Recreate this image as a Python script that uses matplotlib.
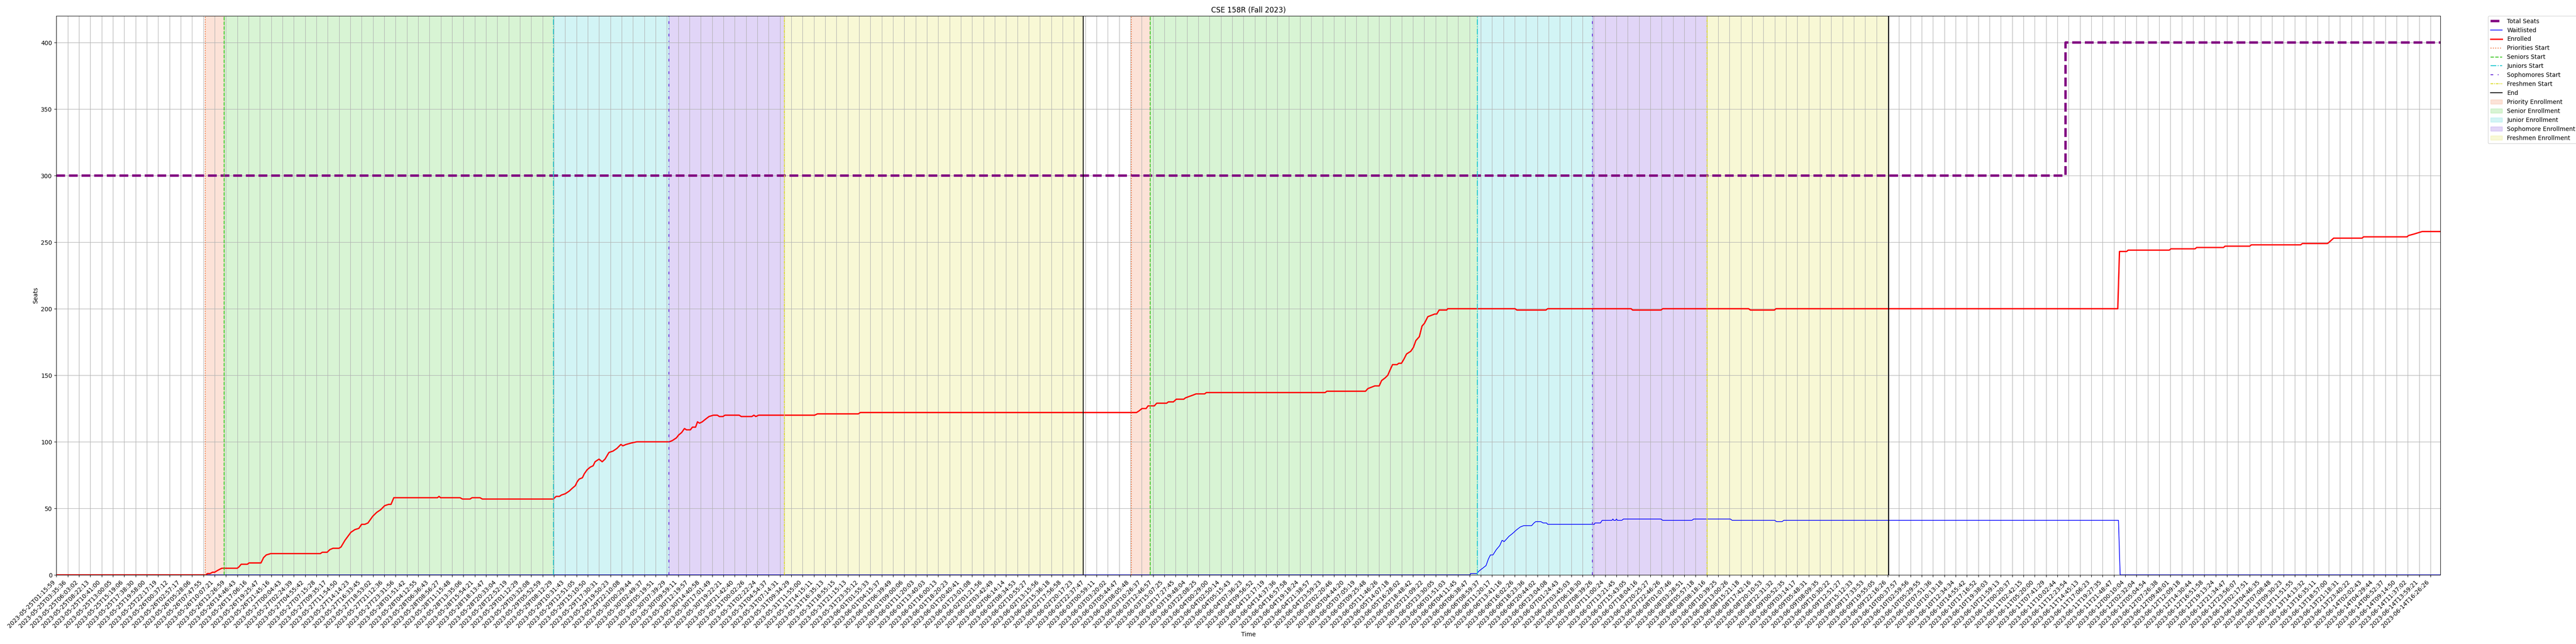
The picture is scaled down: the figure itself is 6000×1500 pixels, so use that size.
import matplotlib
matplotlib.use("Agg")
import matplotlib.pyplot as plt

# x tick labels (one tick every few samples, categorical axis)
tick_days = ['2023-05-25', '2023-05-26', '2023-05-27', '2023-05-28', '2023-05-29', '2023-05-30',
             '2023-05-31', '2023-06-01', '2023-06-02', '2023-06-03', '2023-06-04', '2023-06-05',
             '2023-06-06', '2023-06-07', '2023-06-08', '2023-06-09', '2023-06-10', '2023-06-11',
             '2023-06-12', '2023-06-13', '2023-06-14']
tick_times = [
    ['01:15:59', '03:35:36', '06:03:02', '08:22:13', '10:41:00', '13:00:05', '15:19:06', '17:38:30', '19:58:00', '22:17:19'],
    ['00:37:12', '02:57:17', '05:28:06', '07:47:55', '10:07:21', '12:26:59', '14:46:43', '17:06:16', '19:25:47', '21:45:16'],
    ['00:04:43', '02:24:39', '04:55:42', '07:15:28', '09:35:17', '11:54:50', '14:14:23', '16:33:45', '18:53:02', '21:12:36', '23:31:56'],
    ['01:51:42', '04:12:55', '06:36:43', '08:56:27', '11:15:48', '13:35:06', '15:54:21', '18:13:47', '20:33:04', '22:52:19'],
    ['01:12:29', '03:32:08', '05:52:59', '08:12:29', '10:31:43', '12:51:05', '15:10:50', '17:30:31', '19:50:23', '22:10:08'],
    ['00:29:44', '02:49:37', '05:19:51', '07:39:29', '09:59:11', '12:19:57', '14:40:58', '17:01:49', '19:22:21', '21:42:40'],
    ['00:02:26', '02:22:24', '04:54:37', '07:14:31', '09:34:29', '11:55:00', '14:15:11', '16:35:13', '18:55:15', '21:15:13', '23:35:12'],
    ['01:55:33', '04:15:37', '06:39:49', '09:00:06', '11:20:03', '13:40:03', '16:00:13', '18:20:23', '20:40:41', '23:01:08'],
    ['01:21:56', '03:42:49', '06:14:14', '08:34:53', '10:55:27', '13:15:56', '15:36:18', '17:56:58', '20:17:23', '22:37:47'],
    ['00:59:11', '03:20:02', '05:44:47', '08:05:48', '10:26:37', '12:46:57', '15:07:25', '17:27:45', '19:48:04', '22:08:25'],
    ['00:29:00', '02:50:14', '05:15:43', '07:36:23', '09:56:52', '12:17:19', '14:37:36', '16:57:58', '19:18:24', '21:38:57', '23:59:23'],
    ['02:20:46', '04:44:20', '07:05:19', '09:25:48', '11:46:26', '14:07:18', '16:28:02', '18:48:42', '21:09:22', '23:30:05'],
    ['01:51:03', '04:11:45', '06:38:47', '08:59:37', '11:20:17', '13:41:16', '16:02:26', '18:23:36', '20:44:02', '23:04:08'],
    ['01:24:43', '03:45:03', '06:18:30', '08:39:26', '11:00:24', '13:21:45', '15:43:05', '18:04:16', '20:25:27', '22:46:26'],
    ['01:07:46', '03:28:51', '05:57:18', '08:18:16', '10:39:25', '13:00:26', '15:21:18', '17:42:16', '20:10:53', '22:31:32'],
    ['00:52:35', '03:14:17', '05:48:31', '08:09:35', '10:30:22', '12:51:27', '15:12:33', '17:33:53', '19:55:05', '22:16:26'],
    ['00:37:57', '02:59:56', '05:29:55', '07:51:36', '10:13:18', '12:34:34', '14:55:42', '17:16:52', '19:38:03', '21:59:13'],
    ['00:20:37', '02:42:15', '05:20:00', '07:41:29', '10:02:44', '12:23:54', '14:45:13', '17:06:23', '19:27:35', '21:48:47'],
    ['00:10:04', '02:32:04', '05:04:54', '07:26:38', '09:48:01', '12:09:18', '14:30:44', '16:51:58', '19:13:24', '21:34:47', '23:56:07'],
    ['02:17:51', '04:46:35', '07:08:48', '09:30:23', '11:51:55', '14:13:32', '16:35:11', '18:57:00', '21:18:31', '23:40:22'],
    ['02:02:43', '04:29:44', '06:52:37', '09:14:50', '11:37:02', '13:59:21', '16:26:26'],
]
tick_labels = [d + 'T' + t for d, times in zip(tick_days, tick_times) for t in times]

# positions are in tick units (sample index / tick step)
x_end = 210.87

seats_x = [0, 177.7, x_end]
seats_y = [300, 400, 400]

enrolled_x = [0, 13.2, 13.37, 13.6, 13.81, 14.0, 14.19, 14.4, 14.64, 16.0, 16.15, 16.35, 16.9, 17.04, 18.1,
              18.33, 18.57, 18.96,
              23.35, 23.52, 23.95, 24.19, 24.47, 25.0, 25.18, 25.53, 26.05, 26.4, 26.76, 27.0, 27.28, 27.56,
              27.98, 28.34, 28.69, 29.04, 29.39, 29.6, 29.85, 33.71, 33.85, 33.98, 35.71, 35.92, 36.59, 36.77,
              37.47, 37.68, 43.96,
              44.21, 44.5, 44.67, 45.02, 45.37, 45.62, 45.9, 46.07, 46.25, 46.53, 46.7, 46.95, 47.23, 47.48,
              47.65, 48.0, 48.28, 48.53, 48.88, 49.23, 49.58, 49.93, 50.11, 50.39, 50.81, 51.34, 54.22,
              54.5, 54.85, 55.03, 55.31, 55.56, 55.73, 56.08, 56.26, 56.54, 56.71, 56.89, 57.13, 57.42, 57.73,
              58.12, 58.47, 58.64, 58.96, 59.14, 60.4, 60.58, 61.52, 61.7, 61.87, 62.12, 67.07, 67.32, 70.94,
              71.11,
              95.54, 95.73, 96.03, 96.39, 96.57, 97.12, 97.33, 98.21, 98.36, 98.81, 99.06, 99.72, 99.87, 100.18,
              100.51, 100.81, 101.57, 101.72, 112.23, 112.38, 115.8, 116.01, 116.32, 116.62, 117.01, 117.22,
              117.53, 117.77, 117.92, 118.19, 118.59, 118.74, 118.98, 119.19, 119.43, 119.8, 120.04, 120.25,
              120.56, 120.8, 121.01, 121.31, 121.61, 121.92, 122.1, 122.31, 122.98, 123.07,
              129.03, 129.18, 131.76, 131.91, 139.3, 139.42, 141.94, 142.09, 149.69, 149.84, 151.97, 152.11,
              182.34, 182.49, 183.12, 183.26, 186.89, 187.04, 189.17, 189.32, 191.69, 191.83, 194.01, 194.16,
              198.52, 198.67, 200.89, 201.04, 201.43, 203.94, 204.09, 207.92, 208.06, 208.5, 208.89, 209.27,
              x_end]
enrolled_y = [0, 0, 1, 1, 2, 2, 3, 4, 5, 5, 6, 8, 8, 9, 9,
              13, 15, 16,
              16, 17, 17, 19, 20, 20, 21, 26, 32, 34, 35, 38, 38, 39,
              44, 47, 49, 52, 53, 53, 58, 58, 59, 58, 58, 57, 57, 58,
              58, 57, 57,
              59, 59, 60, 61, 63, 65, 67, 70, 72, 73, 76, 79, 81, 82,
              85, 87, 85, 87, 92, 93, 95, 98, 97, 98, 99, 100, 100,
              101, 103, 105, 107, 110, 109, 109, 111, 111, 115, 114, 115, 117, 119,
              120, 120, 119, 119, 120, 120, 119, 119, 120, 119, 120, 120, 121, 121,
              122,
              122, 123, 125, 125, 127, 127, 129, 129, 130, 130, 132, 132, 133, 134,
              135, 136, 136, 137, 137, 138, 138, 140, 141, 142, 142, 146,
              148, 150, 153, 158, 158, 159, 159, 162, 166, 168, 171, 176,
              179, 187, 189, 194, 195, 196, 196, 199, 199, 200,
              200, 199, 199, 200, 200, 199, 199, 200, 200, 199, 199, 200,
              200, 243, 243, 244, 244, 245, 245, 246, 246, 247, 247, 248,
              248, 249, 249, 250, 253, 253, 254, 254, 255, 256, 257, 258,
              258]

waitlist_x = [0, 125.04, 125.1, 125.64, 125.85, 126.16, 126.46, 126.67, 126.85, 127.07, 127.37, 127.67,
              127.88, 128.06, 128.28, 128.49, 128.79, 129.18, 129.49, 129.79, 130.49, 130.7, 130.85, 131.31,
              131.52, 131.82, 131.91, 136.04, 136.1, 136.58, 136.73, 137.6, 137.68, 137.76, 137.92, 138.0,
              138.08, 138.47, 138.62, 141.93, 142.09, 144.67, 144.83, 148.07, 148.23, 152.0, 152.16, 152.64,
              152.8, 182.4, 182.55, x_end]
waitlist_y = [0, 0, 1, 1, 3, 5, 7, 12, 15, 15, 19, 22,
              26, 25, 27, 29, 31, 34, 36, 37, 37, 39, 40, 40,
              39, 39, 38, 38, 39, 39, 41, 41, 42, 41, 41, 42,
              41, 41, 42, 42, 41, 41, 42, 42, 41, 41, 40, 40,
              41, 41, 0, 0]

# enrollment phases (two passes)
priority_start = [13.16, 95.07]
seniors_start = [14.84, 96.76]
juniors_start = [43.96, 125.70]
sophomores_start = [54.18, 135.88]
freshmen_start = [64.40, 146.02]
end_times = [90.81, 162.07]

c_prio = '#f0703a'
c_sen = '#40c828'
c_jun = '#20c8d0'
c_soph = '#6a30d8'
c_fresh = '#dcdc30'

fig = plt.figure(figsize=(60, 15), dpi=100)
ax = fig.add_axes([0.02188, 0.1073, 0.92545, 0.868])

ax.plot(seats_x, seats_y, color='purple', linestyle='--', linewidth=4, drawstyle='steps-post',
        label='Total Seats')
ax.plot(waitlist_x, waitlist_y, color='blue', linewidth=1.2, label='Waitlisted')
ax.plot(enrolled_x, enrolled_y, color='red', linewidth=2.2, label='Enrolled')

line_specs = [
    (priority_start, c_prio, ':', 'Priorities Start'),
    (seniors_start, c_sen, '--', 'Seniors Start'),
    (juniors_start, c_jun, '-.', 'Juniors Start'),
    (sophomores_start, c_soph, (0, (3, 5, 1, 5)), 'Sophomores Start'),
    (freshmen_start, c_fresh, (0, (3, 1, 1, 1)), 'Freshmen Start'),
    (end_times, 'black', '-', 'End'),
]
for xs, col, ls, lab in line_specs:
    for i, xv in enumerate(xs):
        ax.axvline(xv, color=col, linestyle=ls, linewidth=1.5, label=lab if i == 0 else None)

span_specs = [
    (priority_start, seniors_start, c_prio, 'Priority Enrollment'),
    (seniors_start, juniors_start, c_sen, 'Senior Enrollment'),
    (juniors_start, sophomores_start, c_jun, 'Junior Enrollment'),
    (sophomores_start, freshmen_start, c_soph, 'Sophomore Enrollment'),
    (freshmen_start, end_times, c_fresh, 'Freshmen Enrollment'),
]
for starts, ends, col, lab in span_specs:
    for i in range(len(starts)):
        ax.axvspan(starts[i], ends[i], color=col, alpha=0.2, label=lab if i == 0 else None)

ax.set_xlim(0, x_end)
ax.set_ylim(0, 420)
ax.set_xticks(range(len(tick_labels)))
ax.set_xticklabels(tick_labels, rotation=45, ha='right')
ax.set_yticks(range(0, 401, 50))
ax.grid(True)
ax.set_title('CSE 158R (Fall 2023)')
ax.set_xlabel('Time')
ax.set_ylabel('Seats')
ax.legend(loc='upper left', bbox_to_anchor=(1.02, 1), borderaxespad=0)

fig.savefig('out.png', dpi=100)
